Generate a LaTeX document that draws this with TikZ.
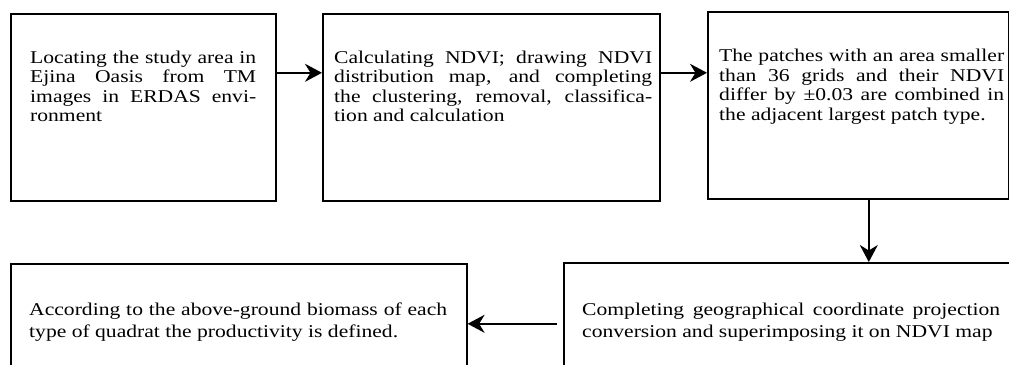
\documentclass[tikz,border=0pt]{standalone}
\usepackage{fontspec}
\setmainfont{Liberation Serif}[FakeStretch=1.2]
\usetikzlibrary{arrows.meta}
\begin{document}
\begin{tikzpicture}[x=1pt,y=-1pt,
  box/.style={draw,line width=1.6pt,inner sep=0pt,anchor=north west},
  txt/.style={inner sep=0pt,anchor=base west,align=justify,font=\fontsize{18}{19.5}\selectfont},
  txtb/.style={inner sep=0pt,anchor=base west,align=justify,font=\fontsize{18}{22}\selectfont},
  arr/.style={line width=1.8pt,-{Stealth[length=17pt,width=18pt,inset=5.5pt]}}]
\useasboundingbox (0,0) rectangle (1009,364);
\clip (0,0) rectangle (1009,364);
% boxes
\node[box,minimum width=265pt,minimum height=187pt] (b1) at (10,13) {};
\node[box,minimum width=337pt,minimum height=187pt] (b2) at (322,13) {};
\node[box,minimum width=301pt,minimum height=187pt] (b3) at (707,11) {};
\node[box,minimum width=467pt,minimum height=138pt] (b4) at (563,262) {};
\node[box,minimum width=456pt,minimum height=137pt] (b5) at (10,263) {};
% texts
\node[txt,text width=226pt] (t1) at (30,63) {Locating the study area in\linebreak Ejina Oasis from TM\linebreak images in ERDAS envi-\linebreak ronment};
\node[txt,text width=318pt] (t2) at (334,63) {Calculating NDVI; drawing NDVI\linebreak distribution map, and completing\linebreak the clustering, removal, classifica-\linebreak tion and calculation};
\node[txt,text width=285pt] (t3) at (719,61.5) {The patches with an area smaller\linebreak than 36 grids and their NDVI\linebreak differ by ±0.03 are combined in\linebreak the adjacent largest patch type.};
\node[txtb,text width=418pt] (t4) at (582,315) {Completing geographical coordinate projection\linebreak conversion and superimposing it on NDVI map};
\node[txtb,text width=418pt] (t5) at (29,315) {According to the above-ground biomass of each\linebreak type of quadrat the productivity is defined.};
% connectors
\draw[arr] ([yshift=34.5pt]b1.east) -- ([yshift=34.5pt]b1.east -| b2.west);
\draw[arr] ([yshift=34.5pt]b2.east) -- ([yshift=34.5pt]b2.east -| b3.west);
\draw[arr] ([xshift=10.5pt]b3.south) -- ([xshift=10.5pt]b3.south |- b4.north);
\draw[arr,shorten <=6pt] ([yshift=8pt]b4.west) -- ([yshift=8pt]b4.west -| b5.east);
\end{tikzpicture}
\end{document}
